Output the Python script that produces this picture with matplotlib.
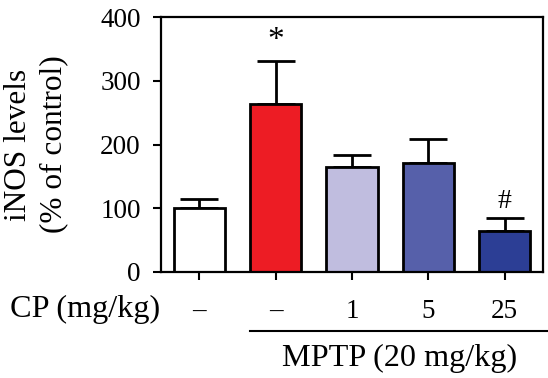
import matplotlib
matplotlib.use("Agg")
import matplotlib.pyplot as plt
import numpy as np

# Data
cp_labels = ["\u2013", "\u2013", "1", "5", "25"]
means = [100, 264, 164, 171, 64]
errors = [14, 67, 20, 37, 20]
colors = ["#FFFFFF", "#ED1C24", "#C0BDDF", "#5660AA", "#2C3E95"]
annotations = ["", "*", "", "", "#"]
ann_offsets = [0, 4, 0, 0, 3]
ann_sizes = [0, 24, 0, 0, 20]
yticks = [0, 100, 200, 300, 400]

plt.rcParams['font.family'] = ['Liberation Serif', 'DejaVu Serif']
plt.rcParams['font.size'] = 19.5

W, H = 548, 378
fig = plt.figure(figsize=(W / 100, H / 100), dpi=100)
left, right = 161 / W, 543 / W
bottom, top = 1 - 271.7 / H, 1 - 17.3 / H
ax = fig.add_axes([left, bottom, right - left, top - bottom])

x = np.arange(len(means))
ax.errorbar(x, means, yerr=[np.zeros(len(errors)), errors], fmt='none',
            ecolor='black', elinewidth=2, capsize=13.5, capthick=2, zorder=1)
ax.bar(x, means, width=0.67, color=colors, edgecolor='black', linewidth=2, zorder=2)

for xi, m, e, a, off, fs in zip(x, means, errors, annotations, ann_offsets, ann_sizes):
    if a:
        ax.annotate(a, (xi, m + e), xytext=(0, off), textcoords='offset points',
                    ha='center', va='bottom', fontsize=fs)

ax.set_xlim(-0.5, 4.5)
ax.set_ylim(0, 400)
ax.set_yticks(yticks)
ax.set_xticks(x, labels=cp_labels)
for sp in ax.spines.values():
    sp.set_visible(True)
    sp.set_linewidth(1.6)
    sp.set_color('black')
ax.tick_params(axis='both', width=1.5, length=5.5, direction='out')
ax.tick_params(axis='y', pad=9)
ax.tick_params(axis='x', pad=14)

ax.set_ylabel("iNOS levels\n(% of control)", linespacing=1.3, labelpad=23, fontsize=22.5)

fig.text(10 / W, 1 - 309 / H, "CP (mg/kg)", ha='left', va='center', fontsize=23.2)

# MPTP bracket line
btrans = ax.get_xaxis_transform()
line_x = [0.67, 4.57]
ax.plot(line_x, [-0.232, -0.232], color='black', lw=1.5, transform=btrans, clip_on=False)
ax.text(np.mean(line_x), -0.34, "MPTP (20 mg/kg)", ha='center', va='center',
        transform=btrans, fontsize=23.2)

fig.savefig("out.png", dpi=100)
